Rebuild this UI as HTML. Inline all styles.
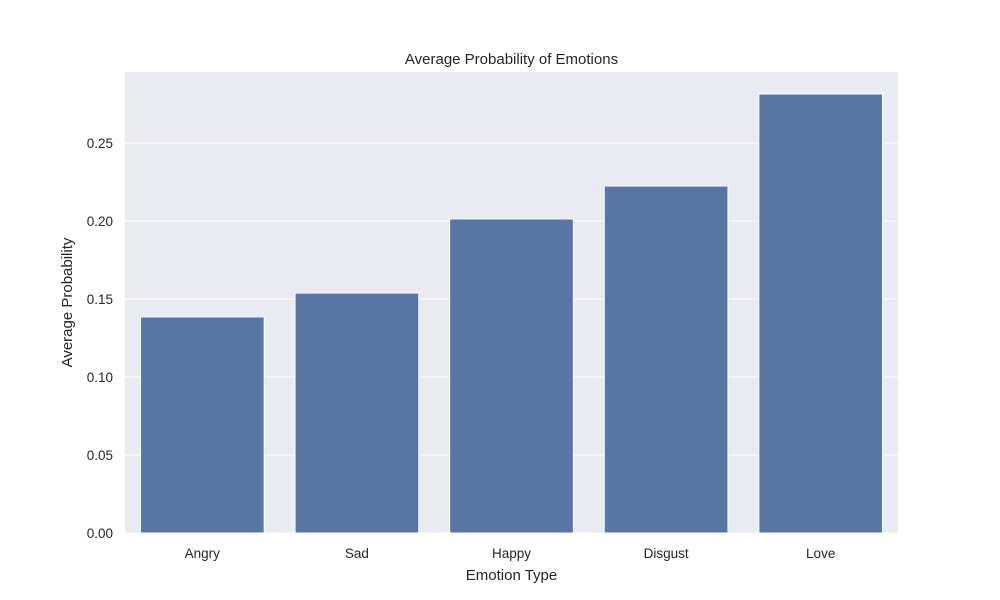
<!DOCTYPE html>
<html><head><meta charset="utf-8"><style>
body{margin:0;background:#fff;}
svg{display:block;font-family:"Liberation Sans","DejaVu Sans",sans-serif;}
</style></head><body>
<svg id="chart" width="1000" height="600">
<rect x="125" y="72" width="773" height="461" fill="#eaeaf2"/>
<g id="grid"></g><g id="bars"></g><g id="xt"></g><g id="yt"></g>
<text x="511.5" y="64" text-anchor="middle" font-size="15" fill="#262626">Average Probability of Emotions</text>
<text x="511.5" y="580" text-anchor="middle" font-size="15" fill="#262626">Emotion Type</text>
<text x="72" y="302.5" text-anchor="middle" font-size="15" fill="#262626" transform="rotate(-90 72 302.5)">Average Probability</text>
</svg>
<script>
const categories = ["Angry","Sad","Happy","Disgust","Love"];
const values = [0.1385,0.1538,0.2013,0.2224,0.2814];
const yTicks = [0,0.05,0.10,0.15,0.20,0.25];
const yTickLabels = ["0.00","0.05","0.10","0.15","0.20","0.25"];
const L=125,R=898,T=72,B=533,YMAX=0.2955;
const ns="http://www.w3.org/2000/svg";
function y(v){return B-(v/YMAX)*(B-T);}
const band=(R-L)/categories.length;
function x(i){return L+band*i+band/2;}
function mk(tag,attrs,parent){const e=document.createElementNS(ns,tag);for(const k in attrs)e.setAttribute(k,attrs[k]);document.getElementById(parent).appendChild(e);return e;}
yTicks.forEach((t,i)=>{
  const g=mk('line',{x1:L,x2:R,y1:y(t),y2:y(t),stroke:'#fff','stroke-width':1},'grid');
  
  
  const l=mk('text',{x:L-12,y:y(t)+5,'text-anchor':'end','font-size':13.5,fill:'#262626'},'yt');
  l.textContent=yTickLabels[i];
  
  
});
categories.forEach((c,i)=>{
  const w=band*0.8;
  const b=mk('rect',{x:x(i)-w/2,y:y(values[i]),width:w,height:B-y(values[i]),fill:'#5875a4',stroke:'#fff','stroke-width':1},'bars');
  
  
  const l=mk('text',{x:x(i),y:B+25,'text-anchor':'middle','font-size':13.5,fill:'#262626'},'xt');
  l.textContent=c;
  
  
});
</script>
</body></html>
